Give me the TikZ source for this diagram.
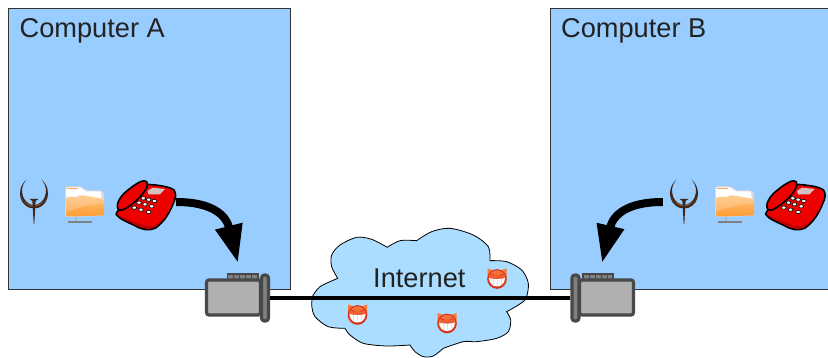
\documentclass[tikz,border=0pt]{standalone}
\usepackage{fontspec}
\setmainfont{Liberation Sans}
\usetikzlibrary{arrows.meta}

\definecolor{boxblue}{HTML}{99CCFF}
\definecolor{cloudblue}{HTML}{AADDFF}
\definecolor{modemgray}{HTML}{B0B0B0}
\definecolor{modemdark}{HTML}{484848}
\definecolor{flangegray}{HTML}{808080}
\definecolor{textdark}{HTML}{222222}
\definecolor{quakebrown}{HTML}{3E261A}
\definecolor{quakelight}{HTML}{8A5A3C}
\definecolor{phonered}{HTML}{EE0000}
\definecolor{phonedark}{HTML}{B80000}
\definecolor{devilred}{HTML}{D9301A}
\definecolor{devilorange}{HTML}{F97A3C}
\definecolor{foldertop}{HTML}{FFC27A}
\definecolor{folderbottom}{HTML}{FF9C33}

\tikzset{
  computer/.style={draw=black!80, fill=boxblue, line width=0.8pt, anchor=north west, inner sep=0pt},
  boxlabel/.style={anchor=base west, inner sep=0pt, text=textdark, font=\fontsize{27.2}{27.2}\selectfont},
  anchorbox/.style={inner sep=0pt, minimum width=#1, minimum height=40pt},
  wire/.style={line width=4pt},
  bigarrow/.style={line width=8pt, -{Triangle[length=38pt,width=26pt]}},
  body/.style={draw=modemdark, fill=modemgray, line width=3.2pt, rounded corners=2.5pt, inner sep=0pt, minimum width=54pt, minimum height=35pt},
  flange/.style={draw=modemdark, fill=flangegray, line width=3.2pt, rounded corners=3pt, inner sep=0pt, minimum width=7pt, minimum height=46pt},
  pins/.style={draw=modemdark, fill=flangegray, line width=1.5pt},
  pics/quake/.style={code={
    \fill[quakebrown] (-7.5,-13.5) .. controls (-20,-2) and (-13,15.5) .. (0,15.5)
      .. controls (13,15.5) and (20,-2) .. (7.5,-13.5)
      .. controls (17,-3) and (10,12) .. (0,12)
      .. controls (-10,12) and (-17,-3) .. cycle;
    \fill[quakelight] (-12.5,5) .. controls (-9,11) and (-4,13.5) .. (0,13.5)
      .. controls (4,13.5) and (9,11) .. (12.5,5) .. controls (8,14.5) and (-8,14.5) .. cycle;
    \fill[quakebrown] (-4.5,6) -- (4.5,6) -- (1.6,8) -- (0.3,31) -- (-0.3,31) -- (-1.6,8) -- cycle;
  }},
  pics/folder/.style={code={
    % base and stem
    \fill[black!50] (3,35.5) rectangle (27,37);
    \fill[black!30] (9.5,31) rectangle (11.5,35.5);
    % paper
    \fill[black!15, rounded corners=1.5pt] (0,0.5) -- (16,0.5) -- (22,4.5) -- (37,4.5) -- (39,7) -- (39,30) -- (0,31) -- cycle;
    \fill[white, rounded corners=1pt] (1,1.5) -- (15.5,1.5) -- (21,5.5) -- (36,5.5) -- (37,14) -- (1,12) -- cycle;
    \fill[orange!70] (2,2) rectangle (13,3.5);
    % front
    \shade[top color=foldertop, bottom color=folderbottom, rounded corners=1.5pt]
      (1,11) -- (12,11) -- (16,9) -- (39,13) -- (39,29.5) -- (1,30.5) -- cycle;
    \fill[white, opacity=0.2] (1,11) -- (12,11) -- (16,9) -- (39,13) -- (39,17) .. controls (22,19) and (10,22) .. (1,26) -- cycle;
  }},
  pics/phone/.style={code={
    \begin{scope}[scale=1/3]
      % base
      \draw[draw=black, fill=phonered, line width=1.6pt, line join=round]
        (110,28) .. controls (150,30) and (180,36) .. (192,45)
        .. controls (200,55) and (197,72) .. (190,85)
        .. controls (178,115) and (162,142) .. (135,160)
        .. controls (115,168) and (95,164) .. (75,152)
        .. controls (50,140) and (28,132) .. (18,118)
        .. controls (18,108) and (40,95) .. (60,78) -- cycle;
      \fill[phonedark] (20,119) .. controls (50,135) and (90,163) .. (122,161)
        .. controls (150,150) and (180,115) .. (194,62)
        .. controls (186,105) and (158,142) .. (124,154)
        .. controls (90,153) and (50,130) .. (20,119) -- cycle;
      % handset
      \draw[draw=black, fill=phonered, line width=1.6pt]
        (26,105) .. controls (14,90) and (30,62) .. (58,42)
        .. controls (80,24) and (102,12) .. (110,20)
        .. controls (118,30) and (104,52) .. (84,72)
        .. controls (62,92) and (38,110) .. (26,105) -- cycle;
      % display
      \fill[red!35!black!25!white] (112,48) -- (128,38) -- (165,42) -- (150,58) -- (116,58) -- cycle;
      % keys
      \foreach \keyx/\keyy in {100/70,116/74,133/78,87/83,105/88,125/94,73/98,93/104,116/111}
        \draw[draw=black, fill=white, line width=0.6pt] (\keyx,\keyy) ellipse [x radius=7, y radius=5];
    \end{scope}
  }},
  pics/devil/.style={code={
    \fill[devilorange] (-9.5,-2) -- (-9.5,-10.5) -- (-2,-8) -- cycle;
    \fill[devilorange] (9.5,-2) -- (9.5,-10.5) -- (2,-8) -- cycle;
    \draw[draw=devilred, top color=devilorange, bottom color=devilred, line width=1pt] (0,0) circle [radius=9.3];
    \fill[white] (-8,-1) .. controls (-3,0.5) and (3,0.5) .. (8,-1)
      .. controls (7.5,5) and (4,7.5) .. (0,7.5) .. controls (-4,7.5) and (-7.5,5) .. cycle;
    \foreach \toothx in {-4,0,4}
      \draw[black!12, line width=0.4pt] (\toothx,0.5) -- (\toothx,6.5);
    \draw[devilred, line width=0.7pt] (-6.5,-5) -- (-3,-3.5) (6.5,-5) -- (3,-3.5);
  }},
}

\begin{document}
\begin{tikzpicture}[x=1pt, y=-1pt]
  \useasboundingbox (0,0) rectangle (828,358);

  \node[computer, minimum width=282pt, minimum height=281pt] (computerA) at (8,8) {};
  \node[computer, minimum width=279.5pt, minimum height=281pt] (computerB) at (550,8) {};
  \node[boxlabel] (labelA) at (19.5,37.5) {Computer A};
  \node[boxlabel] (labelB) at (561,37.5) {Computer B};

  % cloud, traced lobe by lobe
  \begin{scope}[shift={(300,220)}, scale=1/3]
    \draw[fill=cloudblue, line width=0.8pt]
      plot[smooth] coordinates {(38,228) (60,200) (113,175)}
      -- plot[smooth] coordinates {(113,175) (95,140) (95,105) (120,75) (170,52) (215,58) (262,82)}
      -- plot[smooth] coordinates {(262,82) (300,62) (350,62)}
      -- plot[smooth] coordinates {(350,62) (395,35) (450,25) (520,45) (565,80) (570,122)}
      -- plot[smooth] coordinates {(570,122) (620,125) (665,150) (685,190) (678,235) (655,255) (620,275)}
      -- plot[smooth] coordinates {(620,275) (632,300) (625,335) (590,355) (530,365) (490,365) (430,385)}
      -- plot[smooth] coordinates {(430,385) (400,408) (370,410) (345,395) (330,375)}
      -- plot[smooth] coordinates {(330,375) (260,378) (190,370) (150,345) (135,325)}
      -- plot[smooth] coordinates {(135,325) (85,320) (45,290) (35,255) (38,228)}
      -- cycle;
  \end{scope}

  % modem A
  \draw[pins] (227.5,274) rectangle (258,281);
  \foreach \pinx in {233.5,239.5,245.5,251.5}
    \draw[modemdark, line width=1pt] (\pinx,274) -- (\pinx,279);
  \node[body] (bodyA) at (233.5,297.5) {};
  \node[flange] (flangeA) at (265,298) {};

  % modem B
  \draw[pins] (583,274) rectangle (613,281);
  \foreach \pinx in {589,595,601,607}
    \draw[modemdark, line width=1pt] (\pinx,274) -- (\pinx,279);
  \node[body] (bodyB) at (606.5,297.5) {};
  \node[flange] (flangeB) at (575.5,298) {};

  \draw[wire] (flangeA.east) -- (flangeB.west);
  \node[boxlabel] (labelNet) at (373,288) {Internet};

  \pic at (497,279) {devil};
  \pic at (357.5,315) {devil};
  \pic at (447,323.5) {devil};

  % programs, computer A
  \pic at (34,193) {quake};
  \pic at (65,186) {folder};
  \pic at (110,175) {phone};
  % programs, computer B
  \pic at (684,193) {quake};
  \pic at (715,186) {folder};
  \pic at (759.5,175) {phone};

  \node[anchorbox=60pt] (phoneA) at (146,202) {};
  \node[anchorbox=42pt] (quakeB) at (684,202) {};
  \coordinate (tipA) at (238,263);
  \coordinate (tipB) at (602,263);

  \draw[bigarrow] (phoneA.east) .. controls (212,202) and (226,215) .. (tipA);
  \draw[bigarrow] (quakeB.west) .. controls (627,202) and (613,215) .. (tipB);
\end{tikzpicture}
\end{document}
